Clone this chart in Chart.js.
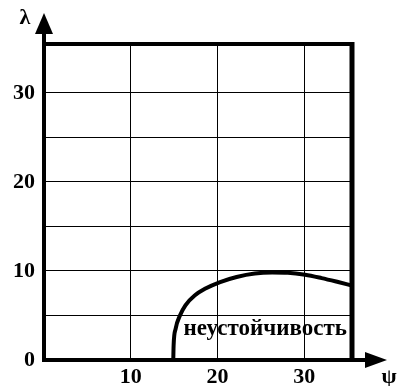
<!DOCTYPE html>
<html>
<head>
<meta charset="utf-8">
<script src="https://cdn.jsdelivr.net/npm/chart.js@4.4.1/dist/chart.umd.min.js"></script>
<style>
html,body{margin:0;padding:0;background:#fff;}
#wrap{width:398px;height:386px;}
</style>
</head>
<body>
<div id="wrap"><canvas id="c" width="398" height="386"></canvas></div>
<script>
// Data
const psiValues    = [14.9, 14.94, 15.17, 15.67, 16.3, 17.4, 18.55, 20.3, 22.2, 24.3, 26.3, 28.1, 30.1, 32.0, 33.9, 35.5];
const lambdaValues = [0.0,  1.65,  3.5,   5.0,   6.15, 7.27, 8.0,   8.76, 9.33, 9.72, 9.83, 9.8,  9.58, 9.2,  8.76, 8.37];
const xTickLabels = [10, 20, 30];
const yTickLabels = [0, 10, 20, 30];
const axisMax = 35.5;
const regionLabel = 'неустойчивость';
const regionPos = {x: 25.5, y: 3.5};
const xAxisName = 'ψ';
const yAxisName = 'λ';

const curve = psiValues.map((p, i) => ({x: p, y: lambdaValues[i]}));
const FONT = '"Liberation Serif", "Times New Roman", serif';

const decor = {
  id: 'decor',
  afterDraw(chart) {
    const {ctx, chartArea: a, scales} = chart;
    const x0 = scales.x.getPixelForValue(0);
    const y0 = scales.y.getPixelForValue(0);
    ctx.save();
    ctx.strokeStyle = '#000';
    ctx.fillStyle = '#000';
    // top and right borders
    ctx.lineWidth = 4;
    ctx.beginPath();
    ctx.moveTo(x0, a.top);
    ctx.lineTo(a.right, a.top);
    ctx.stroke();
    ctx.lineWidth = 5;
    ctx.beginPath();
    ctx.moveTo(a.right, a.top - 2);
    ctx.lineTo(a.right, y0);
    ctx.stroke();
    // axes
    ctx.lineWidth = 4;
    ctx.beginPath();
    ctx.moveTo(x0, y0 + 2);
    ctx.lineTo(x0, 30);
    ctx.moveTo(x0 - 2, y0);
    ctx.lineTo(368, y0);
    ctx.stroke();
    // arrows
    ctx.beginPath();
    ctx.moveTo(x0, 13);
    ctx.lineTo(x0 - 9, 34);
    ctx.lineTo(x0 + 9, 34);
    ctx.closePath();
    ctx.fill();
    ctx.beginPath();
    ctx.moveTo(387, y0);
    ctx.lineTo(365, y0 - 8);
    ctx.lineTo(365, y0 + 8);
    ctx.closePath();
    ctx.fill();
    // axis names
    ctx.font = 'bold 22px ' + FONT;
    ctx.textAlign = 'center';
    ctx.textBaseline = 'middle';
    ctx.fillText(yAxisName, 25, 18);
    ctx.fillText(xAxisName, 389, 377);
    // region label
    ctx.font = 'bold 23px ' + FONT;
    ctx.fillText(regionLabel, scales.x.getPixelForValue(regionPos.x), scales.y.getPixelForValue(regionPos.y));
    ctx.restore();
  }
};

new Chart(document.getElementById('c'), {
  type: 'line',
  data: {
    datasets: [{
      data: curve,
      borderColor: '#000',
      borderWidth: 4,
      pointRadius: 0,
      cubicInterpolationMode: 'monotone',
      fill: false
    }]
  },
  options: {
    responsive: false,
    animation: false,
    events: [],
    layout: {padding: {top: 44, right: 46, left: 0, bottom: 0}},
    plugins: {legend: {display: false}, tooltip: {enabled: false}},
    scales: {
      x: {
        type: 'linear',
        min: 0, max: axisMax,
        afterFit(s) { s.height = 26; },
        afterBuildTicks(s) { s.ticks = [0].concat(xTickLabels).map(v => ({value: v})); },
        grid: {color: '#000', lineWidth: 1, drawTicks: false},
        border: {display: false},
        ticks: {
          padding: 4,
          color: '#000',
          font: {family: FONT, size: 22, weight: 'bold'},
          callback: v => xTickLabels.includes(v) ? String(v) : ''
        }
      },
      y: {
        type: 'linear',
        min: 0, max: axisMax,
        afterFit(s) { s.width = 44; },
        ticks: {
          stepSize: 5,
          padding: 9,
          color: '#000',
          font: {family: FONT, size: 22, weight: 'bold'},
          callback: v => yTickLabels.includes(v) ? String(v) : ''
        },
        grid: {color: '#000', lineWidth: 1, drawTicks: false},
        border: {display: false}
      }
    }
  },
  plugins: [decor]
});
</script>
</body>
</html>
